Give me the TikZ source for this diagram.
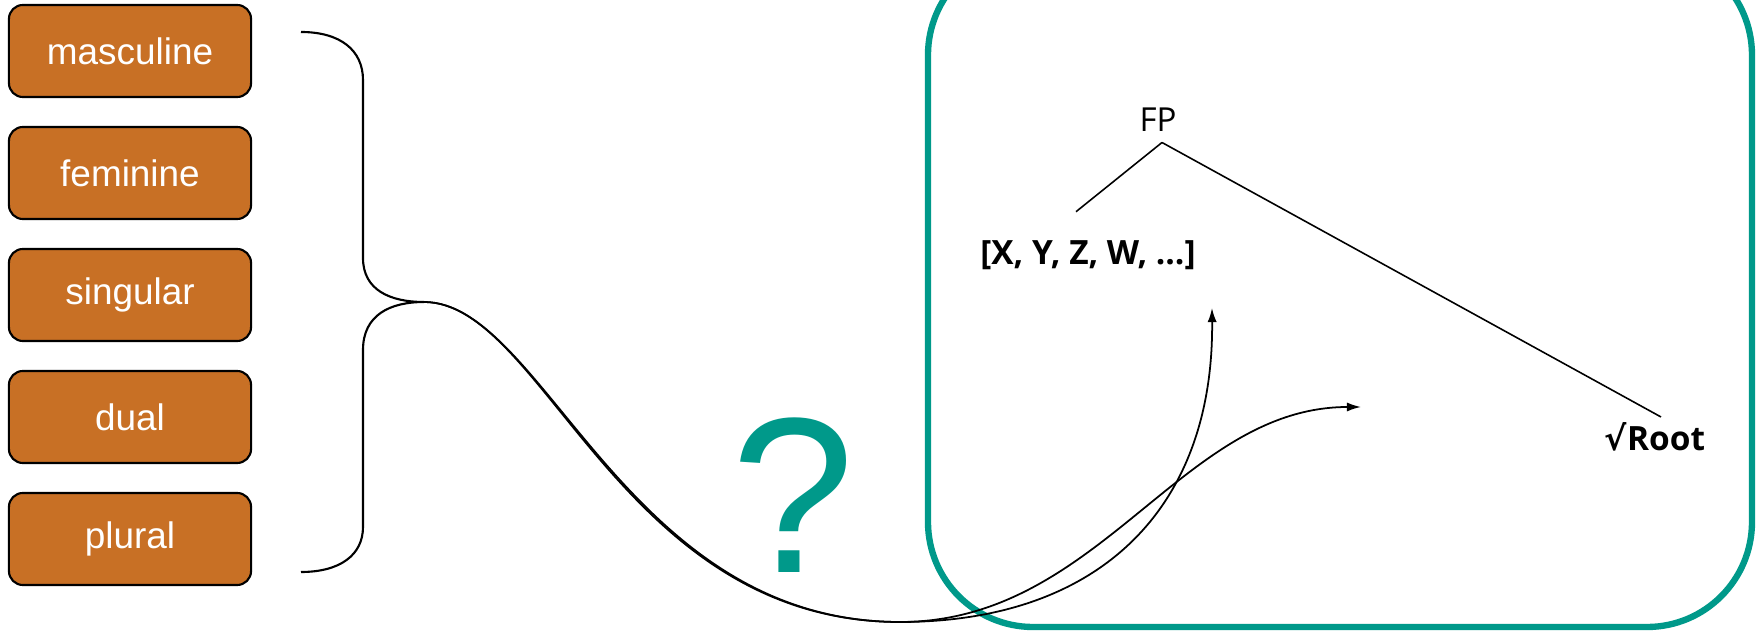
\documentclass[tikz,border=0pt]{standalone}
\usepackage{fontspec}
\setmainfont{Liberation Sans}
\newfontfamily\treefont{Open Sans}
\newfontfamily\symbolfont{DejaVu Sans}
\usetikzlibrary{arrows.meta,calc}
\definecolor{featorange}{HTML}{C87025}
\definecolor{frameteal}{HTML}{00998A}

\begin{document}
\begin{tikzpicture}[x=0.01cm,y=-0.01cm,
  featbox/.style={draw=black,line width=0.6pt,fill=featorange,rounded corners=0.14cm,
    minimum width=2.42cm,minimum height=0.92cm,text=white,font=\fontsize{10.5}{12}\selectfont},
  treelabel/.style={inner sep=0pt,font=\treefont\bfseries\fontsize{9.5}{11}\selectfont},
  branch/.style={line width=0.45pt},
  wire/.style={line width=0.5pt,-{Latex[length=4pt,width=2.6pt]}}]
  \useasboundingbox (0,0) rectangle (1762,634);

  % feature boxes
  \node[featbox] (masc) at (130,51) {masculine};
  \node[featbox] (fem)  at (130,173) {feminine};
  \node[featbox] (sg)   at (130,295) {singular};
  \node[featbox] (du)   at (130,417) {dual};
  \node[featbox] (pl)   at (130,539) {plural};

  % brace
  \coordinate (bracetip) at (424,302);
  \draw[line width=0.6pt] (301,32) .. controls (340,32) and (363,50) .. (363,80) -- (363,258)
    .. controls (363,290) and (390,302) .. (bracetip)
    .. controls (390,302) and (363,315) .. (363,350) -- (363,527)
    .. controls (363,555) and (340,572) .. (301,572);

  % frame
  \draw[frameteal,line width=1.8pt,rounded corners=1.05cm] (928,-50) rectangle (1752,627);

  \node[text=frameteal,inner sep=0pt,font=\fontsize{63}{68}\selectfont] (query) at (793,495) {?};

  % tree
  \node[inner sep=0pt,font=\treefont\fontsize{9.4}{11}\selectfont] (fp) at (1158,120) {FP};
  \node[treelabel] (feats) at (1088,255) {[X, Y, Z, W, …]};
  \node[treelabel] (root) at (1655,437) {{\symbolfont\bfseries √}Root};
  \draw[branch] ($(fp.south)+(4,10)$) -- ($(feats.north)+(-12,-28)$);
  \draw[branch] ($(fp.south)+(4,10)$) -- ($(root.north)+(6,-5)$);

  % wires
  \coordinate (dip) at (900,622);
  \coordinate (featsgoal) at (1212,308);
  \coordinate (rootgoal) at (1361,407);
  \draw[wire] (bracetip) .. controls +(120,0) and +(-275,0) .. (dip)
    .. controls +(200,0) and +(2,200) .. (featsgoal);
  \draw[wire] (bracetip) .. controls +(120,0) and +(-280,0) .. (dip)
    .. controls +(200,0) and +(-180,0) .. (rootgoal);
\end{tikzpicture}
\end{document}
